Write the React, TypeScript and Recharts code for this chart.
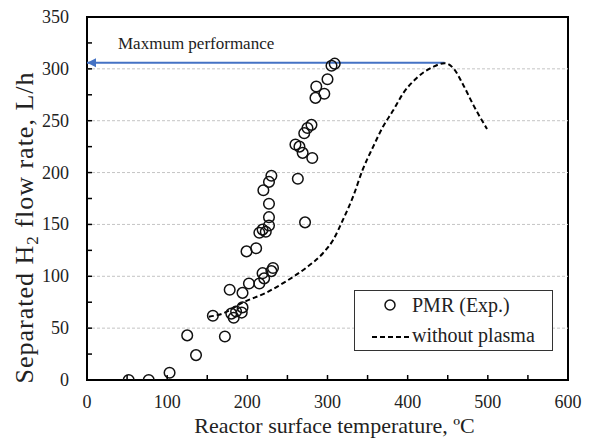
import React from 'react';
import {
  ComposedChart,
  Scatter,
  Line,
  XAxis,
  YAxis,
  ReferenceLine,
  ReferenceArea,
  Legend,
  Customized,
} from 'recharts';

const FONT = '"Liberation Serif", "Times New Roman", serif';

// PMR (Exp.) measured points: temperature (°C) and separated H2 flow (L/h)
const pmrTemp = [52, 77, 103, 125, 136, 157, 172, 178, 180, 183, 186, 193, 194, 194, 202, 199, 211, 215, 219, 221, 230, 232, 215, 219, 223, 227, 227, 227, 220, 227, 230, 272, 263, 260, 265, 269, 281, 271, 275, 280, 285, 286, 296, 300, 305, 309];
const pmrFlow = [0, 0, 7, 43, 24, 62, 42, 87, 64, 60, 66, 65, 70, 84, 93, 124, 127, 93, 103, 98, 105, 108, 142, 145, 143, 149, 157, 170, 183, 191, 197, 152, 194, 227, 225, 219, 214, 238, 243, 246, 272, 283, 276, 290, 303, 305];

// without plasma curve
const noPlasmaTemp = [152, 169, 194, 223, 248, 273, 294, 307, 319, 332, 344, 357, 369, 382, 394, 411, 432, 446, 457, 469, 482, 499];
const noPlasmaFlow = [61, 64, 74.6, 84, 95, 108, 122, 135, 154, 177, 203, 225, 244, 260, 276, 291, 302, 305.5, 300.6, 285, 265, 242];

// maximum performance arrow
const maxTemp = [446, 0];
const maxFlow = [306, 306];

const xTicks = [0, 50, 100, 150, 200, 250, 300, 350, 400, 450, 500, 550, 600];
const yTicks = [0, 25, 50, 75, 100, 125, 150, 175, 200, 225, 250, 275, 300, 325, 350];
const gridFlows = [50, 100, 150, 200, 250, 300];

const pmrData = pmrTemp.map((x, i) => ({ x, y: pmrFlow[i] }));
const noPlasmaData = noPlasmaTemp.map((x, i) => ({ x, y: noPlasmaFlow[i] }));
const maxData = maxTemp.map((x, i) => ({ x, y: maxFlow[i] }));
const arrowHeadData = [{ x: maxTemp[1], y: maxFlow[1] }];

const XTick = (props: any) => {
  const { x, y, payload } = props;
  const v = payload.value;
  return (
    <g>
      <line x1={x} x2={x} y1={y} y2={y - 5} stroke="#000" strokeWidth={1.5} />
      {v % 100 === 0 && (
        <text x={x} y={y + 28} textAnchor="middle" fontSize={18} fontFamily={FONT} fill="#222">
          {v}
        </text>
      )}
    </g>
  );
};

const YTick = (props: any) => {
  const { x, y, payload } = props;
  const v = payload.value;
  return (
    <g>
      <line x1={x} x2={x + 5} y1={y} y2={y} stroke="#000" strokeWidth={1.5} />
      {v % 50 === 0 && (
        <text x={x - 18} y={y} dy={6} textAnchor="end" fontSize={18} fontFamily={FONT} fill="#222">
          {v}
        </text>
      )}
    </g>
  );
};

const OpenCircle = (props: any) => {
  const { cx, cy } = props;
  if (cx == null || cy == null) return null;
  return <circle cx={cx} cy={cy} r={5.3} fill="none" stroke="#111" strokeWidth={1.5} />;
};

const ArrowHead = (props: any) => {
  const { cx, cy } = props;
  if (cx == null || cy == null) return null;
  return (
    <polygon
      points={`${cx},${cy} ${cx + 9},${cy - 4.5} ${cx + 9},${cy + 4.5}`}
      fill="#4472C4"
    />
  );
};

const LegendBox = () => (
  <div
    style={{
      position: 'relative',
      width: 199,
      height: 61,
      boxSizing: 'border-box',
      border: '1.5px solid #333',
      background: '#fff',
      fontFamily: FONT,
      fontSize: 20,
      color: '#222',
    }}
  >
    <svg width={199} height={61} style={{ position: 'absolute', left: -1.5, top: -1.5 }}>
      <circle cx={36} cy={15} r={5} fill="none" stroke="#111" strokeWidth={1.5} />
      <line x1={18} x2={56} y1={47} y2={47} stroke="#000" strokeWidth={2} strokeDasharray="5 3" />
      <text x={58} y={22} fontSize={20} fontFamily={FONT} fill="#222">PMR (Exp.)</text>
      <text x={58} y={52} fontSize={20} fontFamily={FONT} fill="#222">without plasma</text>
    </svg>
  </div>
);

const Annotation = () => (
  <text x={118} y={49} fontSize={17} fontFamily={FONT} fill="#222">
    Maxmum performance
  </text>
);

export default function App() {
  return (
    <div style={{ position: 'absolute', left: 0, top: 0, width: 589, height: 445, background: '#fff' }}>
      <ComposedChart width={589} height={445} margin={{ top: 17, right: 21, left: 0, bottom: 0 }}>
        <XAxis
          type="number"
          dataKey="x"
          domain={[0, 600]}
          ticks={xTicks}
          interval={0}
          height={65}
          axisLine={false}
          tickLine={false}
          tickSize={0}
          tickMargin={0}
          tick={<XTick />}
          allowDataOverflow
          label={{
            content: (p: any) => {
              const vb = p.viewBox || { x: 87, y: 380, width: 481 };
              return (
                <text
                  x={vb.x + vb.width / 2 + 7}
                  y={vb.y + 53}
                  textAnchor="middle"
                  fontSize={22}
                  fontFamily={FONT}
                  fill="#222"
                >
                  Reactor surface temperature, ºC
                </text>
              );
            },
          }}
        />
        <YAxis
          type="number"
          dataKey="y"
          domain={[0, 350]}
          ticks={yTicks}
          interval={0}
          width={87}
          axisLine={false}
          tickLine={false}
          tickSize={0}
          tickMargin={0}
          tick={<YTick />}
          allowDataOverflow
          label={{
            content: (p: any) => {
              const vb = p.viewBox || { x: 0, y: 17, width: 87, height: 363 };
              const cx = vb.x + 33;
              const cy = vb.y + vb.height / 2 + 29;
              return (
                <text
                  transform={`translate(${cx},${cy}) rotate(-90)`}
                  textAnchor="middle"
                  fontSize={26}
                  letterSpacing={1}
                  fontFamily={FONT}
                  fill="#222"
                >
                  Separated H
                  <tspan fontSize={17} dy={5}>2</tspan>
                  <tspan dy={-5}> flow rate, L/h</tspan>
                </text>
              );
            },
          }}
        />
        {gridFlows.map((g) => (
          <ReferenceLine key={g} y={g} stroke="#c4c4c4" strokeWidth={1} strokeDasharray="3 2" />
        ))}
        <ReferenceArea x1={0} x2={600} y1={0} y2={350} fill="none" fillOpacity={0} stroke="#000" strokeWidth={2} />
        <Line
          data={maxData}
          dataKey="y"
          stroke="#4472C4"
          strokeWidth={2}
          dot={false}
          activeDot={false}
          isAnimationActive={false}
          legendType="none"
        />
        <Scatter data={arrowHeadData} dataKey="y" shape={ArrowHead} isAnimationActive={false} legendType="none" />
        <Line
          data={noPlasmaData}
          dataKey="y"
          type="monotone"
          stroke="#000"
          strokeWidth={2}
          strokeDasharray="5 3"
          dot={false}
          activeDot={false}
          isAnimationActive={false}
          name="without plasma"
        />
        <Scatter data={pmrData} dataKey="y" shape={OpenCircle} isAnimationActive={false} name="PMR (Exp.)" />
        <Customized component={Annotation} />
        <Legend
          layout="horizontal"
          align="center"
          verticalAlign="middle"
          content={() => <LegendBox />}
          wrapperStyle={{ position: 'absolute', left: 354, top: 290, width: 199, height: 61 }}
        />
      </ComposedChart>
    </div>
  );
}
